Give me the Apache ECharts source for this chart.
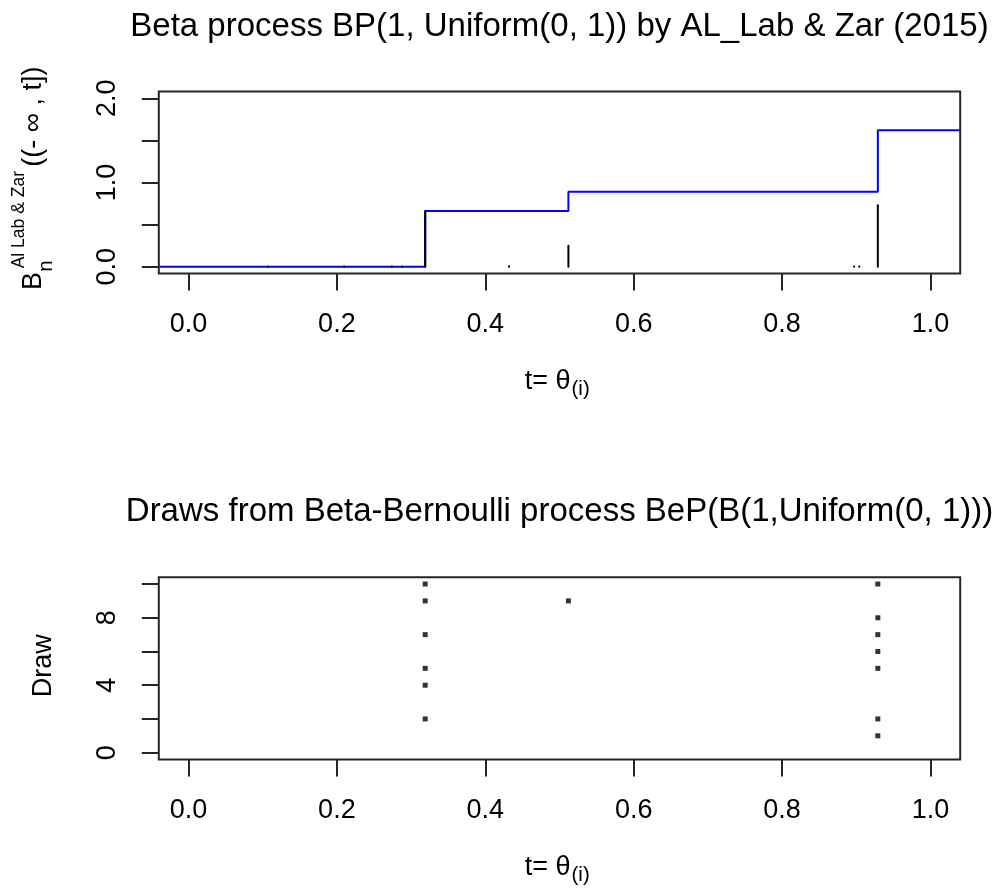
<!DOCTYPE html>
<html>
<head>
<meta charset="utf-8">
<title>Beta process and Beta-Bernoulli draws</title>
<script src="https://cdn.jsdelivr.net/npm/echarts@6/dist/echarts.min.js"></script>
<style>
  html, body { margin: 0; padding: 0; background: #ffffff; }
  #chart { width: 1003px; height: 890px; }
</style>
</head>
<body>
<div id="chart"></div>
<script>
// ---- data ----------------------------------------------------------------
// axis ticks and labels
const xTickValues = [0, 0.2, 0.4, 0.6, 0.8, 1.0];
const bpTickValues = [0, 0.5, 1.0, 1.5, 2.0];
const bpLabelValues = [0, 1.0, 2.0];
const drawTickValues = [0, 2, 4, 6, 8, 10];
const drawLabelValues = [0, 4, 8];

// atoms of the beta process: location theta_i and weight
const atomLocation = [0.107, 0.210, 0.274, 0.288, 0.319, 0.432, 0.512, 0.897, 0.904, 0.929];
const atomWeight   = [0.003, 0.003, 0.003, 0.003, 0.66, 0.004, 0.25, 0.003, 0.003, 0.73];

// cumulative measure B((-inf, t]) as a right-continuous step function
const stepLocation = [-0.04, 0.319, 0.512, 0.929, 1.04];
const stepLevel    = [0.00, 0.66, 0.89, 1.62, 1.62];

// Bernoulli process draws: feature location and index of the draw that owns it
const drawLocation = [0.319, 0.319, 0.319, 0.319, 0.319, 0.319,
                      0.512,
                      0.929, 0.929, 0.929, 0.929, 0.929, 0.929, 0.929];
const drawIndex    = [2, 4, 5, 7, 9, 10,
                      9,
                      1, 2, 5, 6, 7, 8, 10];

// ---- styling -------------------------------------------------------------
const FONT = '"Liberation Sans", Arial, Helvetica, sans-serif';
const INK = '#000000';
const BOX = '#262626';
const MID = 0.3465;          // canvas "middle" baseline offset, in em
const AXIS_FS = 27;
const TITLE_FS = 33;
const PANEL_SHIFT = 485.7;   // vertical distance between the two panels

// grid rectangles (px)
const GRID_LEFT = 158.8, GRID_WIDTH = 801.4;
const TOP_GRID = { top: 91.6, height: 181.8 };
const BOT_GRID = { top: 577.3, height: 182.1 };

// text placed with its alphabetic baseline at `baseline`
function textAt(x, baseline, text, size, align) {
  return {
    type: 'text', x: x, y: baseline - MID * size, silent: true,
    style: { text: text, font: size + 'px ' + FONT, fill: INK, align: align, verticalAlign: 'middle' }
  };
}

function xAxisFor(gridIndex) {
  return {
    gridIndex: gridIndex, type: 'value', min: -0.04, max: 1.04,
    axisLine: { show: false, onZero: false },
    splitLine: { show: false },
    axisTick: { show: true, inside: false, length: 17, customValues: xTickValues,
                lineStyle: { color: BOX, width: 2 } },
    axisLabel: { customValues: xTickValues, formatter: v => v.toFixed(1),
                 margin: 38, fontSize: AXIS_FS, lineHeight: AXIS_FS, fontFamily: FONT, color: INK }
  };
}

function yAxisFor(gridIndex, min, max, ticks, labels, fmt) {
  return {
    gridIndex: gridIndex, type: 'value', min: min, max: max,
    axisLine: { show: false, onZero: false },
    splitLine: { show: false },
    axisTick: { show: true, inside: false, length: 17, customValues: ticks,
                lineStyle: { color: BOX, width: 2 } },
    axisLabel: { customValues: labels, formatter: fmt, rotate: 90,
                 margin: 38, fontSize: AXIS_FS, lineHeight: AXIS_FS, fontFamily: FONT, color: INK }
  };
}

// vertical segment from 0 up to each atom's weight
function renderAtom(params, api) {
  const p0 = api.coord([api.value(0), 0]);
  const p1 = api.coord([api.value(0), api.value(1)]);
  return {
    type: 'line',
    shape: { x1: p0[0], y1: p0[1], x2: p1[0], y2: p1[1] },
    style: { stroke: INK, lineWidth: 2, lineCap: 'round' }
  };
}

const xNameBaseline = 876.7;
const titleBaseline = 38;

const graphics = [
  // titles
  textAt(559.5, titleBaseline, 'Beta process BP(1, Uniform(0, 1)) by AL_Lab & Zar (2015)', TITLE_FS, 'center'),
  textAt(559.5, titleBaseline + PANEL_SHIFT, 'Draws from Beta-Bernoulli process BeP(B(1,Uniform(0, 1)))', TITLE_FS, 'center'),
  // x axis names with subscript
  textAt(570.5, xNameBaseline - PANEL_SHIFT, 't= \u03b8', AXIS_FS, 'right'),
  textAt(571.5, xNameBaseline - PANEL_SHIFT + 5.7, '(i)', 20.5, 'left'),
  textAt(570.5, xNameBaseline, 't= \u03b8', AXIS_FS, 'right'),
  textAt(571.5, xNameBaseline + 5.7, '(i)', 20.5, 'left'),
  // y axis name of the upper panel: B_n^{Al Lab & Zar}((-inf, t])
  {
    type: 'group', x: 43, y: 290, rotation: Math.PI / 2, silent: true,
    children: [
      textAt(0, 0, 'B', AXIS_FS, 'left'),
      textAt(18.3, 10.3, 'n', 20.5, 'left'),
      textAt(21.7, -18, 'Al Lab & Zar', 17.5, 'left'),
      textAt(123.3, 0, '((- \u221e , t])', AXIS_FS, 'left')
    ]
  },
  // y axis name of the lower panel
  {
    type: 'group', x: 53, y: 665.8, rotation: Math.PI / 2, silent: true,
    children: [ textAt(0, 0, 'Draw', AXIS_FS, 'center') ]
  }
];

const option = {
  animation: false,
  backgroundColor: '#ffffff',
  textStyle: { fontFamily: FONT },
  grid: [
    { left: GRID_LEFT, top: TOP_GRID.top, width: GRID_WIDTH, height: TOP_GRID.height,
      show: true, borderColor: BOX, borderWidth: 2, backgroundColor: 'transparent',
      containLabel: false, outerBoundsMode: 'none' },
    { left: GRID_LEFT, top: BOT_GRID.top, width: GRID_WIDTH, height: BOT_GRID.height,
      show: true, borderColor: BOX, borderWidth: 2, backgroundColor: 'transparent',
      containLabel: false, outerBoundsMode: 'none' }
  ],
  xAxis: [ xAxisFor(0), xAxisFor(1) ],
  yAxis: [
    yAxisFor(0, -0.08, 2.08, bpTickValues, bpLabelValues, v => v.toFixed(1)),
    yAxisFor(1, -0.4, 10.4, drawTickValues, drawLabelValues, v => String(v))
  ],
  graphic: graphics,
  series: [
    {
      name: 'B((-inf, t])', type: 'line', xAxisIndex: 0, yAxisIndex: 0,
      data: stepLocation.map((t, i) => [t, stepLevel[i]]),
      step: 'end', symbol: 'none', showSymbol: false, clip: true, silent: true, z: 2,
      lineStyle: { color: '#0000ff', width: 2 }
    },
    {
      name: 'atoms', type: 'custom', xAxisIndex: 0, yAxisIndex: 0,
      data: atomLocation.map((t, i) => [t, atomWeight[i]]),
      encode: { x: 0, y: 1 }, renderItem: renderAtom, silent: true, z: 3
    },
    {
      name: 'draws', type: 'scatter', xAxisIndex: 1, yAxisIndex: 1,
      data: drawLocation.map((t, i) => [t, drawIndex[i]]),
      symbol: 'rect', symbolSize: 5, silent: true,
      itemStyle: { color: INK }
    }
  ]
};

const chart = echarts.init(document.getElementById('chart'), null, { renderer: 'canvas' });
chart.setOption(option);
</script>
</body>
</html>
